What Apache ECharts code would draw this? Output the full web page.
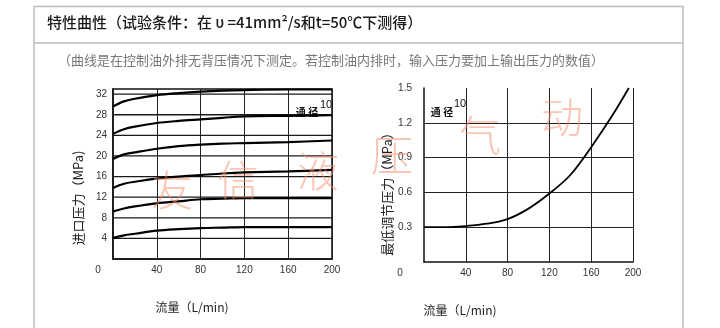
<!DOCTYPE html>
<html><head><meta charset="utf-8">
<script src="https://cdn.jsdelivr.net/npm/echarts@6/dist/echarts.min.js"></script>
<style>html,body{margin:0;padding:0;background:#fff}#c{width:720px;height:328px}</style>
</head><body><div id="c"></div>
<script>
// ---- data ----
const flowX = [0, 10, 20, 40, 60, 80, 100, 120, 160, 200];
const inlet4  = [4.1, 4.6, 4.9, 5.5, 5.8, 6.0, 6.1, 6.2, 6.2, 6.2];
const inlet9  = [9.2, 9.8, 10.2, 10.8, 11.2, 11.6, 11.7, 11.8, 11.8, 11.8];
const inlet14 = [13.8, 14.6, 15.0, 15.6, 16.0, 16.3, 16.6, 16.8, 17.0, 17.3];
const inlet19 = [19.4, 20.3, 20.7, 21.4, 21.9, 22.2, 22.4, 22.5, 22.7, 23.0];
const inlet24 = [24.3, 25.2, 25.7, 26.4, 26.8, 27.1, 27.4, 27.7, 27.8, 27.9];
const inlet29 = [29.6, 30.6, 31.1, 31.8, 32.2, 32.5, 32.7, 32.8, 32.9, 32.9];
const inletCurves = [inlet4, inlet9, inlet14, inlet19, inlet24, inlet29];

const minFlowX = [0, 20, 40, 60, 80, 100, 120, 140, 160, 180, 196];
const minPress = [0.30, 0.30, 0.31, 0.33, 0.37, 0.46, 0.59, 0.75, 0.99, 1.26, 1.5];

const xTicks = [0, 40, 80, 120, 160, 200];
const leftYTicks = [0, 4, 8, 12, 16, 20, 24, 28, 32];
const rightYTicks = [0, 0.3, 0.6, 0.9, 1.2, 1.5];

const titleText = '特性曲性（试验条件：在 υ =41mm²/s和t=50℃下测得）';
const noteText = '（曲线是在控制油外排无背压情况下测定。若控制油内排时，输入压力要加上输出压力的数值）';
const leftYName = '进口压力（MPa)';
const rightYName = '最低调节压力（MPa）';
const xName = '流量（L/min)';
const sizeLabel = '通 径';
const sizeNum = '10';
const watermark = ['友', '信', '液', '压', '气', '动'];

// ---- chart ----
const cjk = "'Noto Sans CJK SC', 'Noto Sans', sans-serif";
const num = "'Liberation Sans Narrow', 'Liberation Sans', Arial, sans-serif";
const chart = echarts.init(document.getElementById('c'), null, {renderer: 'canvas'});

function xAxisDef(gi, zeroPad) {
  return {
    type: 'value', gridIndex: gi, min: xTicks[0], max: xTicks[xTicks.length - 1], interval: xTicks[1] - xTicks[0],
    axisLine: {show: true, onZero: false, lineStyle: {color: '#111', width: 1.5}},
    axisTick: {show: false},
    splitLine: {show: true, showMinLine: false, lineStyle: {color: '#222', width: 1}},
    axisLabel: {
      margin: 6, color: '#333', fontFamily: num, fontSize: 10,
      formatter: v => v === 0 ? '{o|0}' : String(v),
      rich: {o: {padding: [0, zeroPad, 0, 0], fontFamily: num, fontSize: 10, color: '#333'}}
    }
  };
}

const leftSeries = inletCurves.map(arr => ({
  type: 'line', xAxisIndex: 0, yAxisIndex: 0, smooth: 0.35, symbol: 'none',
  lineStyle: {color: '#000', width: 2.2},
  data: flowX.map((x, i) => [x, arr[i]])
}));

// horizontal grid lines of the left chart, drawn through the axes as a series
const leftGridSeries = {
  type: 'line', xAxisIndex: 0, yAxisIndex: 0, symbol: 'none', silent: true,
  lineStyle: {color: '#1a1a1a', width: 1.3},
  connectNulls: false,
  data: leftYTicks.filter(v => v > 0).flatMap(v => [[xTicks[0], v], [xTicks[xTicks.length - 1], v], [null, null]])
};

const wmPos = [[172, 190], [238, 180], [318, 171], [392, 155], [480, 135], [562, 117]];

const option = {
  animation: false,
  grid: [
    {left: 113, top: 89, width: 219, height: 170, show: true, borderColor: '#111', borderWidth: 1.5},
    {left: 424, top: 88, width: 209, height: 174, show: false}
  ],
  xAxis: [xAxisDef(0, 30), xAxisDef(1, 48)],
  yAxis: [
    {
      type: 'value', gridIndex: 0, min: 0, max: 33, interval: 4,
      axisLine: {show: true, lineStyle: {color: '#111', width: 1.5}},
      axisTick: {show: false},
      splitLine: {show: false},
      axisLabel: {margin: 6, color: '#333', fontFamily: num, fontSize: 10,
        formatter: v => (v === 0 || leftYTicks.indexOf(v) < 0) ? '' : String(v)}
    },
    {
      type: 'value', gridIndex: 1, min: 0, max: 1.5, interval: 0.3,
      axisLine: {show: true, lineStyle: {color: '#111', width: 1.5}},
      axisTick: {show: false},
      splitLine: {show: true, showMinLine: false, showMaxLine: false, lineStyle: {color: '#222', width: 1.2}},
      axisLabel: {margin: 12, color: '#333', fontFamily: num, fontSize: 10,
        formatter: v => v === 0 ? '' : v.toFixed(1)}
    }
  ],
  series: [leftGridSeries].concat(leftSeries).concat([{
    type: 'line', xAxisIndex: 1, yAxisIndex: 1, smooth: 0.35, symbol: 'none',
    lineStyle: {color: '#000', width: 1.8},
    data: minFlowX.map((x, i) => [x, minPress[i]])
  }]),
  graphic: [
    // frame
    {type: 'polyline', silent: true, shape: {points: [[34, 328], [34, 6.5], [683, 6.5], [683, 328]]}, style: {stroke: '#bdbdbd', lineWidth: 1.5, fill: null}},
    {type: 'line', silent: true, shape: {x1: 34, y1: 43, x2: 683, y2: 43}, style: {stroke: '#bdbdbd', lineWidth: 1.5}},
    {type: 'text', left: 47, top: 15, style: {text: titleText, font: '500 15px ' + cjk, fill: '#1a1a1a'}},
    {type: 'text', left: 58, top: 54, style: {text: noteText, font: '13px ' + cjk, fill: '#777'}},
    // axis names
    {type: 'text', x: 78, y: 198, rotation: Math.PI / 2, style: {text: leftYName, font: '13px ' + cjk, fill: '#222', align: 'center', verticalAlign: 'middle'}},
    {type: 'text', x: 387, y: 191, rotation: Math.PI / 2, style: {text: rightYName, font: '13px ' + cjk, fill: '#222', align: 'center', verticalAlign: 'middle'}},
    {type: 'text', x: 192, y: 307, style: {text: xName, font: '12px ' + cjk, fill: '#222', align: 'center', verticalAlign: 'middle'}},
    {type: 'text', x: 460, y: 310, style: {text: xName, font: '12px ' + cjk, fill: '#222', align: 'center', verticalAlign: 'middle'}},
    // size labels
    {type: 'text', x: 307, y: 112, style: {text: sizeLabel, font: 'bold 10px ' + cjk, fill: '#111', align: 'center', verticalAlign: 'middle'}},
    {type: 'text', x: 326, y: 105, style: {text: sizeNum, font: '11px ' + num, fill: '#111', align: 'center', verticalAlign: 'middle'}},
    {type: 'text', x: 442, y: 112, style: {text: sizeLabel, font: 'bold 10px ' + cjk, fill: '#111', align: 'center', verticalAlign: 'middle'}},
    {type: 'text', x: 460, y: 104, style: {text: sizeNum, font: '11px ' + num, fill: '#111', align: 'center', verticalAlign: 'middle'}}
  ].concat(watermark.map((ch, i) => ({
    type: 'text', x: wmPos[i][0], y: wmPos[i][1], z: 100, silent: true,
    style: {text: ch, font: '300 42px ' + cjk, fill: 'rgba(248,140,110,0.5)', align: 'center', verticalAlign: 'middle'}
  })))
};
chart.setOption(option);
</script></body></html>
